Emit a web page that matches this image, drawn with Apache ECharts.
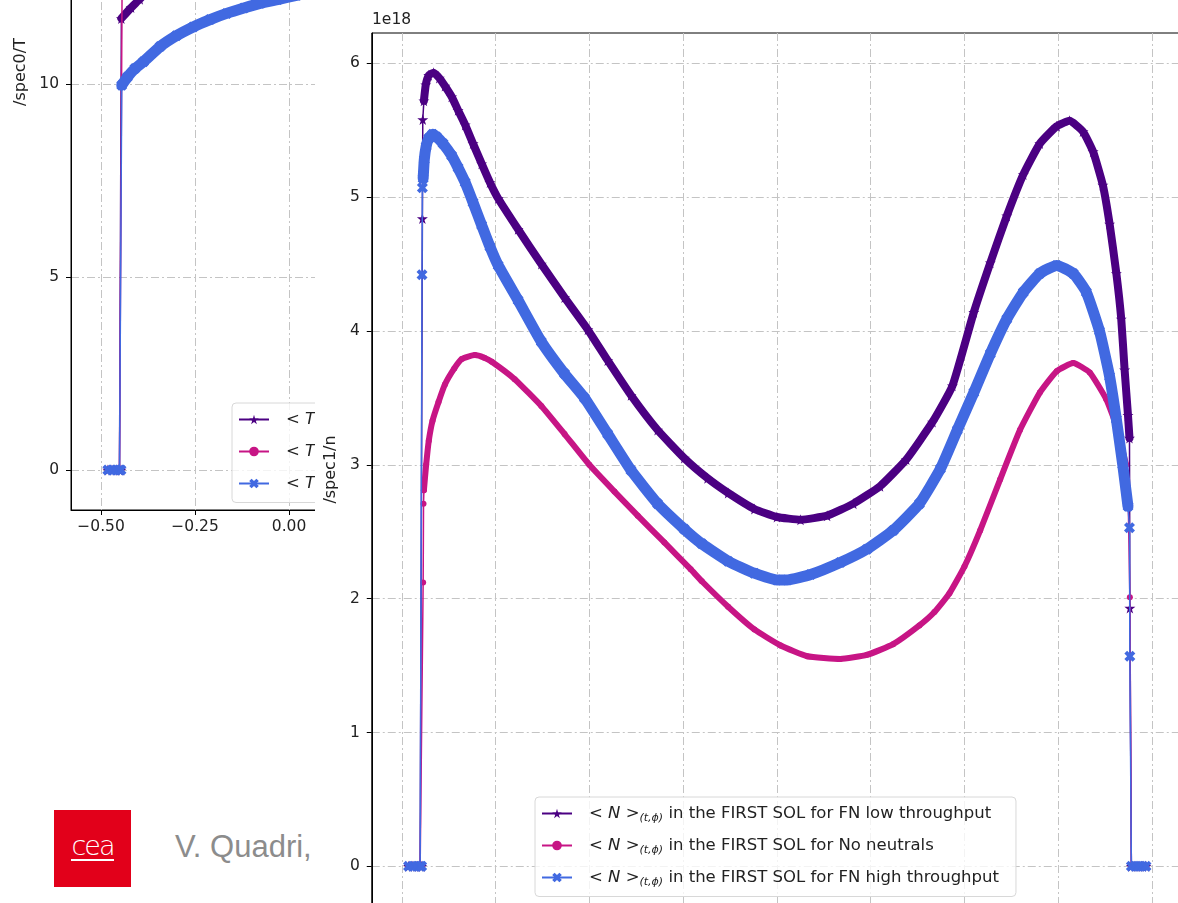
<!DOCTYPE html>
<html>
<head>
<meta charset="utf-8">
<script src="https://cdn.jsdelivr.net/npm/echarts@6/dist/echarts.min.js"></script>
<style>
  html, body { margin: 0; padding: 0; width: 1178px; height: 903px; overflow: hidden; background: #fff; }
  #left { position: absolute; left: 0; top: -400px; width: 1000px; height: 960px; z-index: 0; }
  #right { position: absolute; left: 315px; top: 0; width: 900px; height: 940px; background: #fff; z-index: 2; }
  #logo { position: absolute; left: 54px; top: 810px; width: 77px; height: 77px; background: #e2001a; z-index: 1; }
  #logo span { position: absolute; left: 0; top: 20px; width: 77px; text-align: center; color: #fff;
    font: 200 27px 'DejaVu Sans', sans-serif; letter-spacing: -2px; }
  #logo i { position: absolute; left: 17px; top: 49px; width: 43px; height: 2px; background: #fff; }
  #author { position: absolute; left: 175px; top: 829px; font: 31px 'Liberation Sans', Arial, sans-serif; color: #8c8c8c; z-index: 1; }
</style>
</head>
<body>
<div id="left"></div>
<div id="logo"><span>cea</span><i></i></div>
<div id="author">V. Quadri, CEA</div>
<div id="right"></div>
<script>
// common x axis (same flux-tube coordinate in both panels)
const xMin = -0.58;
const xMax = 1.58;
const xTicks = [-0.5, -0.25, 0, 0.25, 0.5, 0.75, 1, 1.25, 1.5];
const tTicks = [0, 5, 10, 15, 20];
const nTicks = [0, 1, 2, 3, 4, 5, 6];

const cases = ['FN low throughput', 'No neutrals', 'FN high throughput'];

// points outside the SOL (zero)
const zerosL = [[-0.482, 0], [-0.471, 0], [-0.46, 0], [-0.451, 0], [-0.447, 0]];
const zerosR = [[1.445, 0], [1.455, 0], [1.465, 0], [1.475, 0], [1.484, 0]];

// ---- <N> (units of 1e18), right panel ----
const nLowJumpL = [[-0.445, 4.84], [-0.444, 5.58]];
const nLowBody = [
  [-0.441, 5.72], [-0.436, 5.84], [-0.428, 5.91], [-0.415, 5.93], [-0.40, 5.89], [-0.385, 5.83],
  [-0.367, 5.75], [-0.35, 5.65], [-0.331, 5.54], [-0.31, 5.40], [-0.287, 5.25], [-0.265, 5.11],
  [-0.243, 4.99], [-0.19, 4.76], [-0.128, 4.50], [-0.066, 4.25], [-0.004, 4.01], [0.049, 3.78],
  [0.111, 3.52], [0.182, 3.26], [0.253, 3.05], [0.315, 2.90], [0.37, 2.79], [0.44, 2.67],
  [0.50, 2.61], [0.563, 2.59], [0.634, 2.62], [0.704, 2.71], [0.775, 2.84], [0.845, 3.04],
  [0.915, 3.32], [0.968, 3.59], [1.025, 4.14], [1.069, 4.51], [1.113, 4.86],
  [1.157, 5.17], [1.201, 5.40], [1.246, 5.53], [1.28, 5.57], [1.316, 5.49], [1.343, 5.34],
  [1.369, 5.09], [1.387, 4.80], [1.405, 4.43], [1.418, 4.09], [1.427, 3.71], [1.436, 3.37],
  [1.44, 3.20]
];
const nLowJumpR = [[1.441, 1.93]];

const nNoJumpL = [[-0.443, 2.12], [-0.442, 2.71]];
const nNoBody = [
  [-0.441, 2.81], [-0.435, 3.00], [-0.428, 3.18], [-0.418, 3.33], [-0.402, 3.47], [-0.385, 3.60],
  [-0.36, 3.72], [-0.34, 3.79], [-0.305, 3.82], [-0.28, 3.80], [-0.26, 3.77], [-0.199, 3.64],
  [-0.128, 3.44], [-0.066, 3.23], [0.0, 3.00], [0.067, 2.80], [0.129, 2.62], [0.2, 2.42],
  [0.27, 2.22], [0.30, 2.13], [0.37, 1.94], [0.44, 1.77], [0.51, 1.65], [0.581, 1.57],
  [0.669, 1.55], [0.74, 1.58], [0.81, 1.66], [0.88, 1.80], [0.92, 1.90], [0.96, 2.04],
  [1.0, 2.24], [1.042, 2.51], [1.095, 2.89], [1.148, 3.26], [1.201, 3.54], [1.246, 3.70], [1.29, 3.76],
  [1.334, 3.69], [1.378, 3.49], [1.405, 3.29], [1.431, 3.00]
];
const nNoJumpR = [[1.436, 2.83], [1.441, 2.01]];

const nHighJumpL = [[-0.446, 4.42], [-0.445, 5.07]];
const nHighBody = [
  [-0.443, 5.14], [-0.44, 5.28], [-0.435, 5.38], [-0.428, 5.44], [-0.418, 5.47], [-0.407, 5.45],
  [-0.39, 5.40], [-0.367, 5.31], [-0.35, 5.22], [-0.331, 5.11], [-0.31, 4.96], [-0.287, 4.79],
  [-0.265, 4.63], [-0.243, 4.49], [-0.19, 4.23], [-0.128, 3.92], [-0.066, 3.68], [-0.013, 3.50],
  [0.049, 3.23], [0.111, 2.96], [0.182, 2.71], [0.253, 2.52], [0.30, 2.41], [0.37, 2.28],
  [0.44, 2.19], [0.50, 2.14], [0.528, 2.14], [0.59, 2.18], [0.669, 2.27], [0.74, 2.37],
  [0.81, 2.51], [0.88, 2.71], [0.936, 2.97], [0.981, 3.26], [1.025, 3.54], [1.069, 3.83],
  [1.113, 4.09], [1.157, 4.29], [1.201, 4.43], [1.246, 4.49], [1.29, 4.43], [1.325, 4.29],
  [1.36, 4.00], [1.387, 3.66], [1.405, 3.34], [1.422, 3.00], [1.436, 2.69]
];
const nHighJumpR = [[1.44, 2.53], [1.441, 1.57]];

// ---- <T>, left panel (mostly hidden behind the right panel) ----
const tLowBody = [
  [-0.446, 11.70], [-0.42, 11.98], [-0.397, 12.20], [-0.36, 12.6], [-0.3, 13.2], [-0.2, 14.1],
  [-0.1, 14.9], [0.0, 15.6], [0.1, 16.2]
];
const tNoBody = [
  [-0.443, 14.5], [-0.44, 15.2], [-0.42, 16.0], [-0.38, 17.0], [-0.3, 18.2], [-0.2, 19.2],
  [-0.1, 19.9], [0.0, 20.4], [0.1, 20.7]
];
const tHighBody = [
  [-0.445, 9.97], [-0.43, 10.18], [-0.41, 10.40], [-0.387, 10.58], [-0.343, 10.97], [-0.30, 11.25],
  [-0.255, 11.48], [-0.21, 11.67], [-0.166, 11.83], [-0.12, 11.97], [-0.077, 12.09], [-0.03, 12.19],
  [0.02, 12.3], [0.07, 12.4], [0.12, 12.5]
];

const colors = ['#4b0082', '#c71585', '#4169e1'];
const starPath = 'path://M50,0 L61,35 L98,35 L68,57 L79,91 L50,70 L21,91 L32,57 L2,35 L39,35 Z';
const xPath = 'path://M0,25 L25,0 L50,25 L75,0 L100,25 L75,50 L100,75 L75,100 L50,75 L25,100 L0,75 L25,50 Z';
const symbols = [starPath, 'circle', xPath];
const symbolSizes = [11, 6, 11];
const bandWidths = [8, 6, 11];

const font = 'DejaVu Sans';
const ink = '#222';
const fs = 15.5;

const fmtX = v => (v < 0 ? '\u2212' : '') + Math.abs(v).toFixed(2);

function xAxisOpt() {
  return {
    type: 'value', min: xMin, max: xMax,
    axisLine: { show: true, onZero: false, lineStyle: { color: '#000', width: 1 } },
    axisTick: { show: true, length: 5, customValues: xTicks, lineStyle: { color: '#000' } },
    axisLabel: { customValues: xTicks, margin: 9, color: ink, fontSize: fs, fontFamily: font, formatter: fmtX },
    splitLine: { show: true, lineStyle: { color: '#c4c4c4', width: 1, type: [8, 3, 2, 3] } }
  };
}

function yAxisOpt(min, max, ticks, name, gap) {
  return {
    type: 'value', min: min, max: max,
    name: name, nameLocation: 'middle', nameRotate: 90, nameGap: gap,
    nameTextStyle: { color: ink, fontSize: 16, fontFamily: font },
    axisLine: { show: true, onZero: false, lineStyle: { color: '#000', width: 1 } },
    axisTick: { show: true, length: 5, customValues: ticks, lineStyle: { color: '#000' } },
    axisLabel: { customValues: ticks, margin: 12, color: ink, fontSize: fs, fontFamily: font },
    splitLine: { show: true, lineStyle: { color: '#c4c4c4', width: 1, type: [8, 3, 2, 3] } }
  };
}

// thin line with every marker + thick band for the dense part of the profile
function profile(name, i, all, body) {
  return [
    {
      name: name, type: 'line', data: all, z: 2 + i * 2,
      symbol: symbols[i], symbolSize: symbolSizes[i], showAllSymbol: true,
      itemStyle: { color: colors[i] }, lineStyle: { color: colors[i], width: 1.5 },
      animation: false, silent: true
    },
    {
      name: name, type: 'line', data: body, z: 3 + i * 2, smooth: 0.15,
      symbol: 'none', itemStyle: { color: colors[i] },
      lineStyle: { color: colors[i], width: bandWidths[i], cap: 'round', join: 'round' },
      animation: false, silent: true
    }
  ];
}

function legendOpt(letter, names, left, top) {
  return {
    data: names, orient: 'vertical', left: left, top: top,
    padding: [8, 17, 9, 6], itemGap: 13.5, itemWidth: 30, itemHeight: 12,
    backgroundColor: 'rgba(255,255,255,0.8)', borderColor: '#d8d8d8', borderWidth: 1, borderRadius: 4,
    selectedMode: false,
    formatter: name => '{g|}{op|< }{it|' + letter + '}{op| >}{sub|(t,\u03d5)}{tx| in the FIRST SOL for ' +
      cases[names.indexOf(name)] + '}',
    textStyle: {
      color: ink, fontFamily: font, fontSize: 16.5,
      rich: {
        g: { width: 12 },
        op: { fontSize: 16.5, fontFamily: font, color: ink, lineHeight: 20 },
        it: { fontSize: 16.5, fontFamily: font, fontStyle: 'italic', color: ink, lineHeight: 20 },
        sub: { fontSize: 11, fontFamily: font, fontStyle: 'italic', color: ink, verticalAlign: 'bottom', lineHeight: 13 },
        tx: { fontSize: 16.5, fontFamily: font, color: ink, lineHeight: 20 }
      }
    }
  };
}

const tNames = cases.map(c => '<T> ' + c);
const nNames = cases.map(c => '<N> ' + c);

const leftChart = echarts.init(document.getElementById('left'), null, { renderer: 'canvas' });
leftChart.setOption({
  animation: false,
  backgroundColor: '#fff',
  grid: { left: 71, top: 34, width: 812, height: 876, show: true, borderColor: '#000', borderWidth: 1 },
  xAxis: xAxisOpt(),
  yAxis: yAxisOpt(-1.036, 21.66, tTicks, '/spec0/T', 38),
  legend: legendOpt('T', tNames, 232, 803),
  series: [].concat(
    profile(tNames[0], 0, zerosL.concat(tLowBody), tLowBody),
    profile(tNames[1], 1, zerosL.concat(tNoBody), tNoBody),
    profile(tNames[2], 2, zerosL.concat(tHighBody), tHighBody)
  )
});

const rightChart = echarts.init(document.getElementById('right'), null, { renderer: 'canvas' });
rightChart.setOption({
  animation: false,
  backgroundColor: '#fff',
  grid: { left: 55, top: 33, width: 812, height: 873, show: true, borderColor: '#000', borderWidth: 1 },
  xAxis: xAxisOpt(),
  yAxis: yAxisOpt(-0.2965, 6.2265, nTicks, '/spec1/n', 27),
  legend: legendOpt('N', nNames, 220, 797),
  graphic: [
    { type: 'text', left: 57, top: 12, style: { text: '1e18', fontSize: fs, fontFamily: font, fill: ink } }
  ],
  series: [].concat(
    profile(nNames[0], 0, zerosL.concat(nLowJumpL, nLowBody, nLowJumpR, zerosR), nLowBody),
    profile(nNames[1], 1, zerosL.concat(nNoJumpL, nNoBody, nNoJumpR, zerosR), nNoBody),
    profile(nNames[2], 2, zerosL.concat(nHighJumpL, nHighBody, nHighJumpR, zerosR), nHighBody)
  )
});
</script>
</body>
</html>
